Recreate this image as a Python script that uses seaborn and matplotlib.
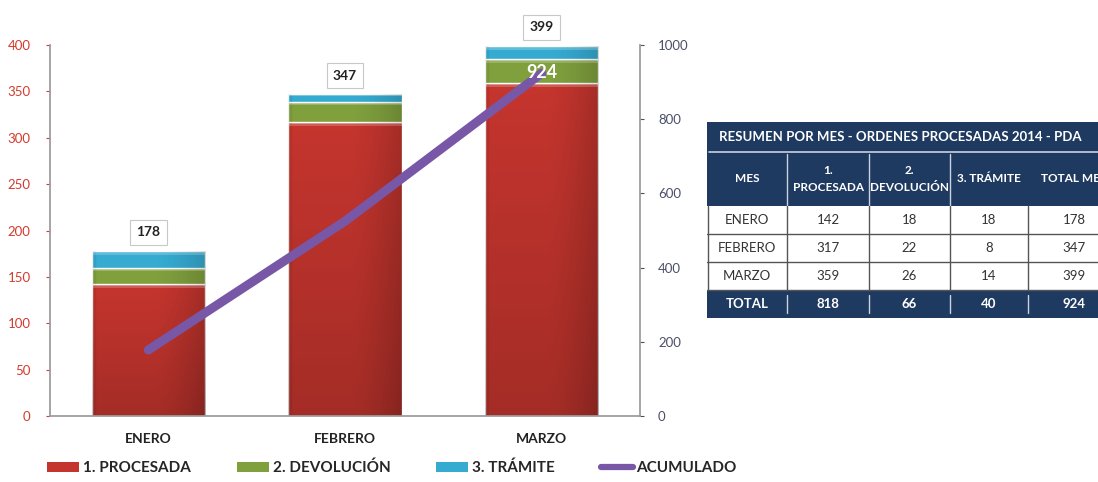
import numpy as np
import pandas as pd
import matplotlib
matplotlib.use("Agg")
import matplotlib.pyplot as plt
import seaborn as sns
from matplotlib.patches import Rectangle
from matplotlib.lines import Line2D

# --- data -------------------------------------------------------------
meses = ["ENERO", "FEBRERO", "MARZO"]
procesada = [142, 317, 359]
devolucion = [18, 22, 26]
tramite = [18, 8, 14]
total_mes = [178, 347, 399]
acumulado = [178, 525, 924]

left_ticks = [0, 50, 100, 150, 200, 250, 300, 350, 400]
right_ticks = [0, 200, 400, 600, 800, 1000]

series_names = ["1. PROCESADA", "2. DEVOLUCIÓN", "3. TRÁMITE"]
line_name = "ACUMULADO"

table_title = "RESUMEN POR MES - ORDENES PROCESADAS 2014 - PDA"
table_header = ["MES", "1.\nPROCESADA", "2.\nDEVOLUCIÓN", "3. TRÁMITE", "TOTAL MES"]
table_total = ["TOTAL", "818", "66", "40", "924"]

# --- style ------------------------------------------------------------
sns.set_theme(style="white")
plt.rcParams["font.family"] = ["Lato", "DejaVu Sans"]

RED = "#c4352e"
GREEN = "#80a03e"
BLUE = "#36abd2"
PURPLE = "#7857a6"
NAVY = "#1f3a60"

W, H = 1098, 482
fig = plt.figure(figsize=(W / 100, H / 100), dpi=100)
ax = fig.add_axes([50 / W, 1 - 416 / H, 590 / W, 371 / H])

df = pd.DataFrame({"mes": meses, "p": procesada, "d": devolucion, "t": tramite})
bottom_d = np.array(procesada)
bottom_t = bottom_d + np.array(devolucion)

bw = 0.575
sns.barplot(data=df, x="mes", y="p", color=RED, width=bw, saturation=1, ax=ax)
sns.barplot(data=df, x="mes", y="d", color=GREEN, width=bw, saturation=1, ax=ax,
            bottom=bottom_d)
sns.barplot(data=df, x="mes", y="t", color=BLUE, width=bw, saturation=1, ax=ax,
            bottom=bottom_t)

# glossy shading: a little darker toward the right edge and the bottom,
# with a soft light rim on top of each segment
nx, ny = 80, 60
gx = np.linspace(0, 1, nx)[None, :]
gy = np.linspace(0, 1, ny)[:, None]          # 0 = top row of the image
for patch in list(ax.patches):
    x0, y0 = patch.get_x(), patch.get_y()
    w, h = patch.get_width(), patch.get_height()
    dark = 0.16 * np.clip((gx - 0.55) / 0.45, 0, 1) ** 1.5 + 0.06 * (gx < 0.03)
    if h > 60:
        dark = dark + 0.16 * gy
    rgba = np.zeros((ny, nx, 4))
    rgba[..., 3] = np.clip(dark, 0, 1)
    im = ax.imshow(rgba, extent=[x0, x0 + w, y0, y0 + h], aspect="auto",
                   zorder=patch.get_zorder() + 0.1, interpolation="bilinear")
    im.set_clip_path(patch)
    rim = min(4.0, h * 0.3)
    ax.add_patch(Rectangle((x0, y0 + h - rim), w, rim, facecolor="white",
                           alpha=0.2, edgecolor="none",
                           zorder=patch.get_zorder() + 0.2))

ax.set_xlim(-0.5, 2.5)
ax.set_ylim(0, 400)
ax.set_yticks(left_ticks)
ax.set_xlabel("")
ax.set_ylabel("")
ax.tick_params(axis="y", colors="#d23a2e", labelsize=9.5, length=3, width=0.8,
               direction="out", left=True, pad=11)
ax.tick_params(axis="x", length=0, labelsize=10, pad=12, colors="#222222")
for lbl in ax.get_xticklabels():
    lbl.set_fontweight("bold")
for side in ["top", "right"]:
    ax.spines[side].set_visible(False)
ax.spines["left"].set_color("#9a9a9a")
ax.spines["bottom"].set_color("#9a9a9a")

# total labels above each bar
for i, tot in enumerate(total_mes):
    ax.text(i, tot + 20, str(tot), ha="center", va="center", fontsize=10,
            fontweight="bold", color="#222222",
            bbox=dict(boxstyle="square,pad=0.45", facecolor="white",
                      edgecolor="#c8c8c8", linewidth=0.8), zorder=6)

# accumulated line on the secondary axis
ax2 = ax.twinx()
sns.lineplot(x=np.arange(len(meses)), y=acumulado, ax=ax2, color=PURPLE,
             linewidth=6.5, solid_capstyle="round", zorder=5)
ax2.set_ylim(0, 1000)
ax2.set_yticks(right_ticks)
ax2.tick_params(axis="y", colors="#4a5068", labelsize=9.5, length=3, width=0.8,
                direction="out", right=True, pad=10)
for side in ["top", "left", "bottom"]:
    ax2.spines[side].set_visible(False)
ax2.spines["right"].set_color("#9a9a9a")
ax2.text(len(meses) - 1, acumulado[-1] + 2, str(acumulado[-1]), ha="center",
         va="center", fontsize=13, fontweight="bold", color="white", zorder=7)

# legend along the bottom
handles = [Rectangle((0, 0), 1, 1, facecolor=c, edgecolor="none")
           for c in (RED, GREEN, BLUE)]
handles.append(Line2D([0], [0], color=PURPLE, linewidth=4.5))
fig.legend(handles, series_names + [line_name], loc="center",
           bbox_to_anchor=(392 / W, 1 - 468 / H), ncol=4, frameon=False,
           prop={"weight": "bold", "size": 11},
           handlelength=2.1, handleheight=0.6, handletextpad=0.25,
           columnspacing=3.0)

# summary table
t_left, t_top, t_bottom = 707, 122, 318
tax = fig.add_axes([t_left / W, 1 - t_bottom / H, (W - t_left) / W,
                    (t_bottom - t_top) / H])
tax.set_xlim(t_left, W)
tax.set_ylim(t_bottom, t_top)
tax.axis("off")

col_edges = [707, 787, 869, 950, 1028, 1120]
row_edges = [122, 152, 206, 234, 262, 290, 318]
body = [[m, str(p), str(d), str(t), str(tt)]
        for m, p, d, t, tt in zip(meses, procesada, devolucion, tramite, total_mes)]
LIGHT = "#c9d2e0"
GRID = "#555555"

tax.add_patch(Rectangle((t_left, row_edges[0]), 420, row_edges[2] - row_edges[0],
                        facecolor=NAVY, edgecolor="none"))
tax.add_patch(Rectangle((t_left, row_edges[5]), 420, row_edges[6] - row_edges[5],
                        facecolor=NAVY, edgecolor="none"))
tax.plot([t_left + 2, 1120], [row_edges[1]] * 2, color=LIGHT, linewidth=1.2)
tax.text(900, (row_edges[0] + row_edges[1]) / 2, table_title, ha="center",
         va="center", color="white", fontsize=9.5, fontweight="bold")
hy = (row_edges[1] + row_edges[2]) / 2
for j, h in enumerate(table_header):
    cx = (col_edges[j] + col_edges[j + 1]) / 2
    tax.text(cx, hy, h, ha="center", va="center", color="white",
             fontsize=8.5, fontweight="bold", linespacing=1.6)
for j in range(1, 4):
    tax.plot([col_edges[j]] * 2, [row_edges[1] + 2, row_edges[2]], color=LIGHT,
             linewidth=1)
for r, row in enumerate(body):
    cy = (row_edges[2 + r] + row_edges[3 + r]) / 2
    for j, v in enumerate(row):
        cx = (col_edges[j] + col_edges[j + 1]) / 2
        tax.text(cx, cy, v, ha="center", va="center", color="#333333", fontsize=9.5)
    tax.plot([t_left, 1120], [row_edges[3 + r]] * 2, color=GRID, linewidth=1)
for j in range(1, 5):
    tax.plot([col_edges[j]] * 2, [row_edges[2], row_edges[5]], color=GRID,
             linewidth=1)
    tax.plot([col_edges[j]] * 2, [row_edges[5] + 5, row_edges[6] - 5],
             color=LIGHT, linewidth=1)
ty = (row_edges[5] + row_edges[6]) / 2
for j, v in enumerate(table_total):
    cx = (col_edges[j] + col_edges[j + 1]) / 2
    tax.text(cx, ty, v, ha="center", va="center", color="white",
             fontsize=9.5, fontweight="bold")
tax.plot([t_left + 0.5] * 2, [row_edges[2], row_edges[5]], color=GRID, linewidth=1)

fig.savefig("out.png", dpi=100, facecolor="white")
